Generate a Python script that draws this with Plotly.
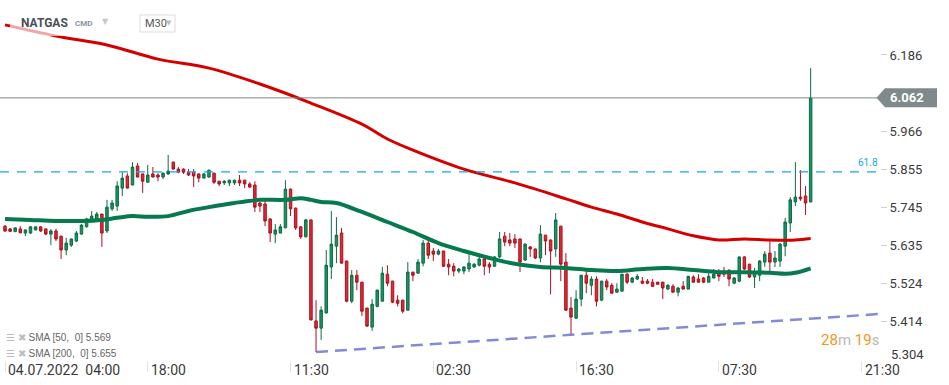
import plotly.graph_objects as go

# ---------------- data ----------------
opens = [5.691,5.683,5.675,5.683,5.671,5.671,5.680,5.689,5.683,5.668,
         5.677,5.662,5.622,5.636,5.648,5.668,5.689,5.706,5.706,5.726,
         5.677,5.741,5.749,5.801,5.836,5.810,5.865,5.842,5.818,5.842,
         5.839,5.833,5.842,5.876,5.856,5.856,5.847,5.847,5.842,5.830,
         5.833,5.844,5.821,5.816,5.816,5.816,5.824,5.824,5.813,5.810,
         5.758,5.755,5.712,5.668,5.671,5.686,5.798,5.743,5.689,5.660,
         5.709,5.417,5.396,5.440,5.573,5.633,5.671,5.590,5.474,5.549,
         5.529,5.454,5.399,5.459,5.474,5.552,5.532,5.477,5.477,5.448,
         5.558,5.555,5.584,5.642,5.619,5.610,5.619,5.581,5.575,5.561,
         5.561,5.567,5.573,5.578,5.596,5.581,5.575,5.602,5.662,5.651,
         5.654,5.654,5.593,5.631,5.625,5.599,5.665,5.651,5.625,5.691,
         5.587,5.454,5.425,5.480,5.549,5.520,5.538,5.477,5.532,5.520,
         5.500,5.503,5.552,5.529,5.538,5.532,5.532,5.529,5.529,5.529,
         5.509,5.517,5.500,5.517,5.509,5.544,5.538,5.541,5.529,5.541,
         5.558,5.561,5.564,5.526,5.532,5.602,5.581,5.544,5.549,5.587,
         5.613,5.587,5.590,5.633,5.700,5.761,5.775,5.778,5.761]
highs = [5.694,5.686,5.687,5.691,5.681,5.691,5.690,5.691,5.684,5.683,
         5.683,5.663,5.657,5.655,5.677,5.697,5.715,5.735,5.732,5.727,
         5.767,5.767,5.821,5.847,5.844,5.876,5.874,5.843,5.868,5.862,
         5.844,5.847,5.897,5.878,5.862,5.858,5.856,5.856,5.843,5.845,
         5.854,5.846,5.822,5.824,5.825,5.825,5.839,5.825,5.818,5.821,
         5.761,5.764,5.713,5.697,5.697,5.824,5.800,5.745,5.690,5.712,
         5.710,5.477,5.459,5.622,5.735,5.717,5.686,5.591,5.564,5.564,
         5.530,5.455,5.480,5.507,5.573,5.578,5.533,5.491,5.478,5.587,
         5.559,5.596,5.651,5.660,5.628,5.625,5.620,5.596,5.584,5.570,
         5.575,5.613,5.584,5.602,5.599,5.587,5.604,5.674,5.674,5.671,
         5.668,5.655,5.642,5.633,5.626,5.694,5.666,5.652,5.729,5.692,
         5.613,5.486,5.506,5.550,5.561,5.546,5.546,5.533,5.538,5.526,
         5.526,5.553,5.555,5.544,5.552,5.544,5.538,5.538,5.530,5.530,
         5.523,5.523,5.515,5.532,5.547,5.549,5.552,5.544,5.555,5.567,
         5.567,5.573,5.565,5.544,5.603,5.604,5.582,5.570,5.593,5.619,
         5.648,5.619,5.642,5.715,5.775,5.876,5.853,5.807,6.148]
lows = [5.674,5.674,5.674,5.670,5.662,5.668,5.679,5.674,5.665,5.636,
        5.648,5.596,5.607,5.631,5.645,5.666,5.687,5.703,5.703,5.631,
        5.671,5.735,5.735,5.778,5.800,5.809,5.832,5.787,5.817,5.832,
        5.821,5.827,5.839,5.855,5.844,5.842,5.836,5.804,5.818,5.829,
        5.831,5.813,5.807,5.810,5.807,5.810,5.807,5.801,5.801,5.732,
        5.732,5.691,5.645,5.642,5.670,5.685,5.720,5.680,5.654,5.659,
        5.418,5.327,5.362,5.438,5.538,5.584,5.583,5.471,5.468,5.506,
        5.431,5.399,5.388,5.456,5.473,5.517,5.468,5.459,5.439,5.447,
        5.532,5.554,5.575,5.596,5.590,5.607,5.573,5.549,5.546,5.555,
        5.552,5.558,5.570,5.575,5.549,5.555,5.573,5.599,5.633,5.633,
        5.628,5.558,5.590,5.602,5.596,5.587,5.607,5.494,5.602,5.532,
        5.447,5.376,5.422,5.459,5.497,5.491,5.459,5.474,5.506,5.496,
        5.499,5.502,5.523,5.526,5.535,5.523,5.523,5.516,5.522,5.480,
        5.506,5.499,5.488,5.508,5.508,5.528,5.528,5.526,5.528,5.540,
        5.532,5.544,5.517,5.523,5.529,5.564,5.541,5.512,5.532,5.573,
        5.561,5.573,5.573,5.604,5.674,5.749,5.764,5.723,5.760]
closes = [5.677,5.676,5.686,5.672,5.680,5.689,5.689,5.677,5.668,5.677,
          5.654,5.622,5.642,5.654,5.671,5.694,5.712,5.720,5.726,5.671,
          5.746,5.758,5.807,5.830,5.801,5.862,5.833,5.821,5.839,5.833,
          5.833,5.844,5.850,5.856,5.847,5.847,5.839,5.836,5.830,5.842,
          5.853,5.818,5.813,5.821,5.824,5.824,5.816,5.813,5.804,5.746,
          5.749,5.706,5.671,5.680,5.689,5.798,5.741,5.686,5.660,5.709,
          5.420,5.396,5.448,5.578,5.639,5.665,5.584,5.474,5.549,5.529,
          5.445,5.402,5.465,5.506,5.555,5.526,5.471,5.468,5.445,5.558,
          5.549,5.587,5.642,5.607,5.610,5.619,5.575,5.573,5.561,5.567,
          5.573,5.584,5.581,5.596,5.575,5.573,5.602,5.654,5.645,5.642,
          5.642,5.587,5.639,5.625,5.599,5.668,5.648,5.619,5.709,5.581,
          5.448,5.428,5.480,5.549,5.526,5.538,5.474,5.532,5.515,5.497,
          5.509,5.552,5.529,5.541,5.546,5.526,5.526,5.517,5.523,5.512,
          5.520,5.500,5.512,5.509,5.546,5.529,5.529,5.529,5.546,5.552,
          5.546,5.552,5.538,5.541,5.602,5.567,5.544,5.558,5.590,5.610,
          5.587,5.599,5.639,5.703,5.767,5.775,5.770,5.758,6.062]
candle_idx = list(range(len(opens)))

sma50_idx = [0,5,10,15,19,22,25,28,32,36,40,45,50,55,58,60,62,65,70,75,80,85,90,95,
             100,105,110,115,120,125,130,135,140,145,150,153,155,158]
sma50_val = [5.712,5.709,5.706,5.706,5.709,5.715,5.720,5.718,5.720,5.735,5.746,5.758,
             5.767,5.767,5.772,5.767,5.761,5.758,5.732,5.703,5.674,5.642,5.619,5.599,
             5.582,5.573,5.570,5.564,5.561,5.567,5.570,5.564,5.558,5.558,5.556,5.553,
             5.556,5.569]
sma200_idx = [0,10,20,30,40,50,60,70,75,80,90,100,110,115,120,125,130,135,140,145,150,155,158]
sma200_val = [6.273,6.241,6.215,6.174,6.148,6.102,6.047,5.986,5.943,5.911,5.856,5.816,
              5.770,5.746,5.726,5.703,5.683,5.663,5.651,5.654,5.651,5.651,5.655]

trend_idx = [61, 171.5]
trend_val = [5.327, 5.437]

fib_level = 5.848
fib_label = "61.8"
last_price = 6.062

y_ticks = [6.186, 6.076, 5.966, 5.855, 5.745, 5.635, 5.524, 5.414]
y_bottom_label = "5.304"
x_tick_idx = [0, 28, 56, 84, 112, 140, 168]
x_tick_text = ["04.07.2022  04:00", "18:00", "11:30", "02:30", "16:30", "07:30", "21:30"]

sma50_label = "SMA [50,  0] 5.569"
sma200_label = "SMA [200,  0] 5.655"

# ---------------- figure ----------------
W, H = 949, 385
PW, PH = 880, 360   # plot area in px
def px(x): return x / PW
def py(y): return 1 - y / PH

fig = go.Figure()

fig.add_trace(go.Scatter(x=trend_idx, y=trend_val, mode="lines",
                         line=dict(color="rgba(110,118,205,0.85)", width=2.5, dash="12px,7px"),
                         hoverinfo="skip", showlegend=False))
fig.add_trace(go.Candlestick(x=candle_idx, open=opens, high=highs, low=lows, close=closes,
                             increasing=dict(line=dict(color="#0d6b44", width=1), fillcolor="#1b9464"),
                             decreasing=dict(line=dict(color="#a8121e", width=1), fillcolor="#e02a37"),
                             whiskerwidth=0, showlegend=False))
fig.add_trace(go.Scatter(x=sma200_idx, y=sma200_val, mode="lines", line_shape="spline",
                         line=dict(color="#d40000", width=3), hoverinfo="skip", showlegend=False))
fig.add_trace(go.Scatter(x=sma50_idx, y=sma50_val, mode="lines", line_shape="spline",
                         line=dict(color="#067a4e", width=4), hoverinfo="skip", showlegend=False))

shapes = [
    dict(type="line", xref="paper", yref="y", x0=0, x1=px(876), y0=fib_level, y1=fib_level,
         line=dict(color="#14a6f0", width=1.3, dash="9px,8px"), layer="above"),
    dict(type="line", xref="paper", yref="y", x0=0, x1=px(877), y0=last_price, y1=last_price,
         line=dict(color="#7d898b", width=1), layer="above"),
    dict(type="path", xref="paper", yref="y",
         path=f"M {px(876.5)},{last_price} L {px(885)},{last_price+0.0275} L {px(937)},{last_price+0.0275} "
              f"L {px(937)},{last_price-0.0275} L {px(885)},{last_price-0.0275} Z",
         fillcolor="#7f8a8d", line=dict(width=0), layer="above"),
    # header translucent backdrop
    dict(type="rect", xref="paper", yref="paper", x0=px(10), x1=px(185), y0=py(36), y1=py(8),
         fillcolor="rgba(255,255,255,0.65)", line=dict(width=0), layer="above"),
    # M30 box
    dict(type="rect", xref="paper", yref="paper", x0=px(140), x1=px(175), y0=py(32), y1=py(15),
         fillcolor="white", line=dict(color="#dcdcdc", width=1), layer="above"),
]
fig.update_layout(shapes=shapes)

ann = []
for i, t in zip(x_tick_idx, x_tick_text):
    ann.append(dict(x=i, xref="x", y=0, yref="paper", text=t, showarrow=False,
                    xanchor="left", yanchor="top", xshift=1, yshift=0,
                    font=dict(family="Roboto", size=14, color="#3a3a3a")))
ann += [
    dict(x=px(889), xref="paper", y=py(354), yref="paper", text=y_bottom_label, showarrow=False,
         xanchor="left", yanchor="middle", font=dict(family="Roboto", size=13, color="#3a3a3a")),
    dict(x=px(907), xref="paper", y=last_price, yref="y", text=f"<b>{last_price:.3f}</b>", showarrow=False,
         xanchor="center", yanchor="middle", font=dict(family="Roboto", size=13, color="white")),
    dict(x=px(856), xref="paper", y=fib_level, yref="y", yshift=9, text=fib_label, showarrow=False,
         xanchor="left", yanchor="middle", font=dict(family="Roboto", size=10, color="#1aa4ea")),
    dict(x=px(19), xref="paper", y=py(23), yref="paper", text="<b>NATGAS</b>", showarrow=False,
         xanchor="left", yanchor="middle", font=dict(family="Roboto", size=12, color="#4a4f55")),
    dict(x=px(73), xref="paper", y=py(24), yref="paper", text="<b>CMD</b>", showarrow=False,
         xanchor="left", yanchor="middle", font=dict(family="Roboto", size=8, color="#8a96a2")),
    dict(x=px(100), xref="paper", y=py(21), yref="paper", text="▼", showarrow=False,
         xanchor="left", yanchor="middle", font=dict(family="DejaVu Sans", size=8, color="#c4c8cc")),
    dict(x=px(143), xref="paper", y=py(23.5), yref="paper", text="M30", showarrow=False,
         xanchor="left", yanchor="middle", font=dict(family="Roboto", size=11, color="#555")),
    dict(x=px(164), xref="paper", y=py(23), yref="paper", text="▼", showarrow=False,
         xanchor="left", yanchor="middle", font=dict(family="DejaVu Sans", size=7, color="#b8bcc0")),
    dict(x=px(4), xref="paper", y=py(337), yref="paper",
         text="<span style='color:#bdbdbd'>☰ ✖</span> " + sma50_label, showarrow=False,
         xanchor="left", yanchor="middle", font=dict(family="Liberation Sans", size=10, color="#666")),
    dict(x=px(4), xref="paper", y=py(353), yref="paper",
         text="<span style='color:#bdbdbd'>☰ ✖</span> " + sma200_label, showarrow=False,
         xanchor="left", yanchor="middle", font=dict(family="Liberation Sans", size=10, color="#666")),
    dict(x=px(881), xref="paper", y=py(340), yref="paper",
         text="<span style='color:#f7941d'>28</span><span style='color:#b8b8b8'>m</span> "
              "<span style='color:#f7941d'>19</span><span style='color:#b8b8b8'>s</span>",
         showarrow=False, xanchor="right", yanchor="middle",
         font=dict(family="Roboto", size=15)),
]

fig.update_layout(
    width=W, height=H, margin=dict(l=0, r=W - PW, t=0, b=H - PH),
    paper_bgcolor="white", plot_bgcolor="white",
    annotations=ann, showlegend=False,
    xaxis=dict(range=[-0.98, 171.6], rangeslider=dict(visible=False), showgrid=False, zeroline=False,
               tickvals=x_tick_idx, showticklabels=False, ticks="outside", ticklen=11,
               tickcolor="#e2e2e2", showline=False, fixedrange=True),
    yaxis=dict(range=[5.3039, 6.345], side="right", showgrid=False, zeroline=False,
               tickvals=y_ticks, ticktext=[f"{v:.3f}" for v in y_ticks], ticks="outside", ticklen=6,
               tickcolor="#d0d0d0", tickfont=dict(family="Roboto", size=13, color="#3a3a3a"),
               showline=False, fixedrange=True),
)

fig.write_html("out.html", config={"displayModeBar": False},
               post_script="document.body.style.margin='0';document.body.style.overflow='hidden';")
